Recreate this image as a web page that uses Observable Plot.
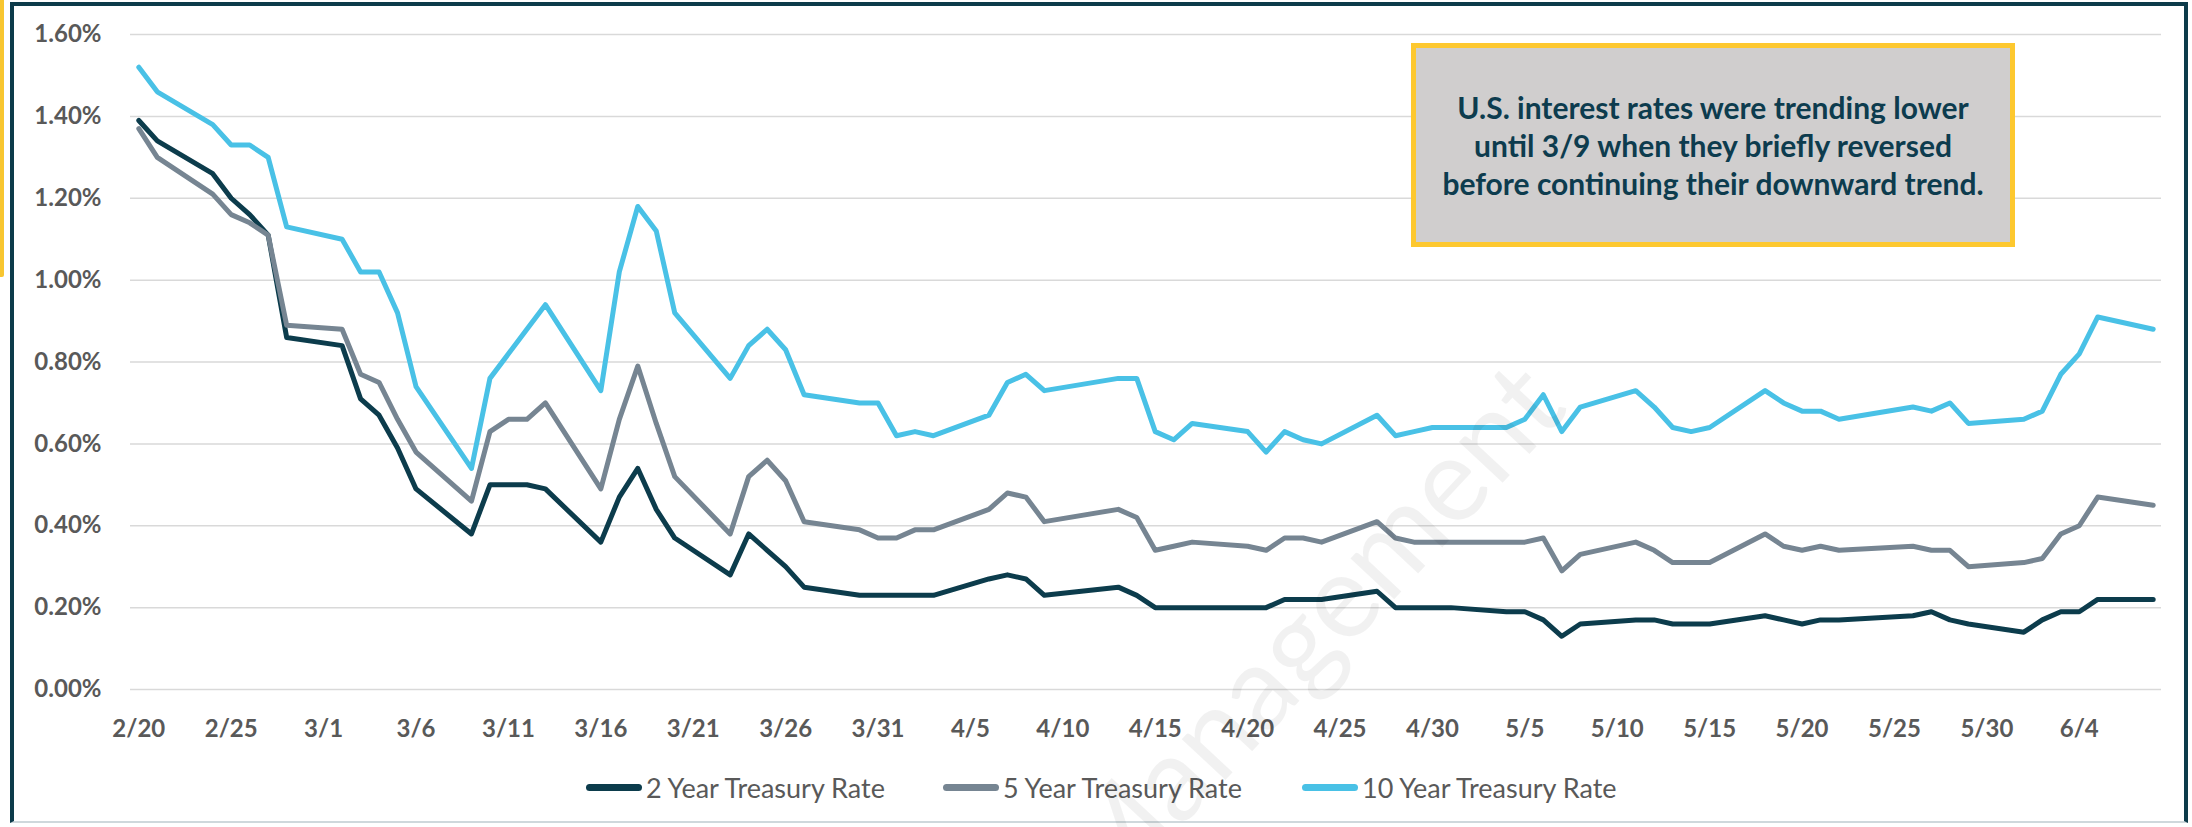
<!DOCTYPE html>
<html>
<head>
<meta charset="utf-8">
<script src="https://cdn.jsdelivr.net/npm/d3@7"></script>
<script src="https://cdn.jsdelivr.net/npm/@observablehq/plot@0.6"></script>
<style>
  html, body { margin: 0; padding: 0; background: #fff; }
  #page { position: relative; width: 2192px; height: 827px; overflow: hidden; background: #fff; font-family: Lato, "Open Sans", sans-serif; }
  #frame { position: absolute; left: 10px; top: 2px; width: 2178px; height: 821px; border: 4px solid #0d3b4a; border-bottom: 2px solid #cfd8dc; box-sizing: border-box; }
  #yellowbar { position: absolute; left: 0; top: 0; width: 4px; height: 277px; background: #f8c630; border-radius: 0 0 2px 0; }
  #chart { position: absolute; left: 0; top: 0; }
  #callout { position: absolute; left: 1411px; top: 43px; width: 604px; height: 204px; box-sizing: border-box;
    border: 5px solid #fdc82f; background: #d0cece; color: #0d3c4e; font-weight: 700; font-size: 30px; line-height: 38px;
    display: flex; align-items: center; justify-content: center; text-align: center; }
  .leg { position: absolute; top: 770px; height: 34px; display: flex; align-items: center; color: #595959; font-size: 27px; white-space: nowrap; }
  .leg .sw { width: 56px; height: 7px; border-radius: 3.5px; margin-right: 4px; }
  #watermark { position: absolute; left: 1305px; top: 628px; transform: translate(-50%, -50%) rotate(-47deg); font-size: 118px; color: rgba(0,0,0,0.055); white-space: nowrap; pointer-events: none; font-family: Lato, sans-serif; }
</style>
</head>
<body>
<div id="page">
  <div id="yellowbar"></div>
  <div id="frame"></div>
  <div id="chart"></div>
  <div id="callout"><div>U.S. interest rates were trending lower<br>until 3/9 when they briefly reversed<br>before continuing their downward trend.</div></div>
  <div id="legend"></div>
  <div id="watermark">Management</div>
</div>
<script>
// ---- data (business days, 2020) ----
const dates = ["2/20","2/21","2/24","2/25","2/26","2/27","2/28",
  "3/2","3/3","3/4","3/5","3/6","3/9","3/10","3/11","3/12","3/13","3/16","3/17","3/18","3/19","3/20","3/23","3/24","3/25","3/26","3/27","3/30","3/31",
  "4/1","4/2","4/3","4/6","4/7","4/8","4/9","4/13","4/14","4/15","4/16","4/17","4/20","4/21","4/22","4/23","4/24","4/27","4/28","4/29","4/30",
  "5/1","5/4","5/5","5/6","5/7","5/8","5/11","5/12","5/13","5/14","5/15","5/18","5/19","5/20","5/21","5/22","5/26","5/27","5/28","5/29",
  "6/1","6/2","6/3","6/4","6/5","6/8"];

const rate2Y = [1.39,1.34,1.26,1.20,1.16,1.11,0.86,
  0.84,0.71,0.67,0.59,0.49,0.38,0.50,0.50,0.50,0.49,0.36,0.47,0.54,0.44,0.37,0.28,0.38,0.34,0.30,0.25,0.23,0.23,
  0.23,0.23,0.23,0.27,0.28,0.27,0.23,0.25,0.23,0.20,0.20,0.20,0.20,0.20,0.22,0.22,0.22,0.24,0.20,0.20,0.20,
  0.20,0.19,0.19,0.17,0.13,0.16,0.17,0.17,0.16,0.16,0.16,0.18,0.17,0.16,0.17,0.17,0.18,0.19,0.17,0.16,
  0.14,0.17,0.19,0.19,0.22,0.22];

const rate5Y = [1.37,1.30,1.21,1.16,1.14,1.11,0.89,
  0.88,0.77,0.75,0.66,0.58,0.46,0.63,0.66,0.66,0.70,0.49,0.66,0.79,0.65,0.52,0.38,0.52,0.56,0.51,0.41,0.39,0.37,
  0.37,0.39,0.39,0.44,0.48,0.47,0.41,0.44,0.42,0.34,0.35,0.36,0.35,0.34,0.37,0.37,0.36,0.41,0.37,0.36,0.36,
  0.36,0.36,0.36,0.37,0.29,0.33,0.36,0.34,0.31,0.31,0.31,0.38,0.35,0.34,0.35,0.34,0.35,0.34,0.34,0.30,
  0.31,0.32,0.38,0.40,0.47,0.45];

const rate10Y = [1.52,1.46,1.38,1.33,1.33,1.30,1.13,
  1.10,1.02,1.02,0.92,0.74,0.54,0.76,0.82,0.88,0.94,0.73,1.02,1.18,1.12,0.92,0.76,0.84,0.88,0.83,0.72,0.70,0.70,
  0.62,0.63,0.62,0.67,0.75,0.77,0.73,0.76,0.76,0.63,0.61,0.65,0.63,0.58,0.63,0.61,0.60,0.67,0.62,0.63,0.64,
  0.64,0.64,0.66,0.72,0.63,0.69,0.73,0.69,0.64,0.63,0.64,0.73,0.70,0.68,0.68,0.66,0.69,0.68,0.70,0.65,
  0.66,0.68,0.77,0.82,0.91,0.88];

const seriesNames = ["2 Year Treasury Rate", "5 Year Treasury Rate", "10 Year Treasury Rate"];
const seriesColors = ["#0c3c4c", "#768592", "#49c1e6"];
const xTickLabels = ["2/20","2/25","3/1","3/6","3/11","3/16","3/21","3/26","3/31","4/5","4/10","4/15","4/20","4/25","4/30","5/5","5/10","5/15","5/20","5/25","5/30","6/4"];
const yTicks = [0, 0.2, 0.4, 0.6, 0.8, 1.0, 1.2, 1.4, 1.6];

// ---- build ----
const parse = s => { const [m, d] = s.split("/").map(Number); return new Date(Date.UTC(2020, m - 1, d)); };
const seriesValues = [rate2Y, rate5Y, rate10Y];
const rows = [];
seriesNames.forEach((name, i) => {
  dates.forEach((d, j) => rows.push({series: name, date: parse(d), value: seriesValues[i][j]}));
});
const xTicks = xTickLabels.map(parse);
const halfDay = 0.45 * 864e5;
const fmtDate = d3.utcFormat("%-m/%-d");

const chart = Plot.plot({
  width: 2192,
  height: 760,
  marginLeft: 130,
  marginRight: 31,
  marginTop: 34,
  marginBottom: 71,
  style: {background: "transparent", fontFamily: "Lato, 'Open Sans', sans-serif", overflow: "visible"},
  x: {type: "utc", domain: [new Date(parse(dates[0]) - halfDay), new Date(+parse(dates[dates.length - 1]) + halfDay)], label: null},
  y: {domain: [0, 1.6], label: null},
  color: {domain: seriesNames, range: seriesColors},
  marks: [
    Plot.gridY(yTicks, {stroke: "#d9d9d9", strokeOpacity: 1, strokeWidth: 1.5}),
    Plot.axisY(yTicks, {tickSize: 0, tickPadding: 29, fontSize: 24, fontWeight: "bold", fill: "#595959", tickFormat: d => d.toFixed(2) + "%", label: null}),
    Plot.axisX(xTicks, {tickSize: 0, tickPadding: 30, fontSize: 24, fontWeight: "bold", fill: "#595959", tickFormat: fmtDate, label: null}),
    Plot.line(rows, {x: "date", y: "value", z: "series", stroke: "series", strokeWidth: 5, strokeLinejoin: "round", strokeLinecap: "round"})
  ]
});
document.getElementById("chart").appendChild(chart);

// ---- legend ----
const legLefts = [586, 943, 1302];
const legend = document.getElementById("legend");
seriesNames.forEach((name, i) => {
  const item = document.createElement("div");
  item.className = "leg";
  item.style.left = legLefts[i] + "px";
  item.innerHTML = `<div class="sw" style="background:${seriesColors[i]}"></div><span>${name}</span>`;
  legend.appendChild(item);
});
</script>
</body>
</html>
